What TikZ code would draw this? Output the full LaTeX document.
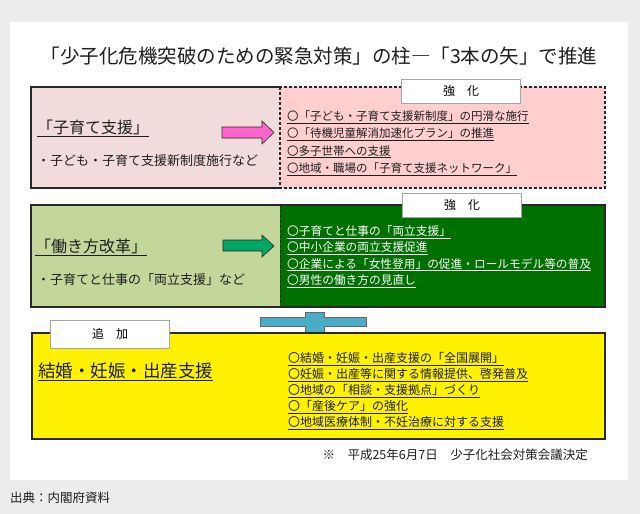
\documentclass[tikz,border=0pt]{standalone}
\usepackage{fontspec}
\setmainfont{Noto Sans CJK JP}
\usetikzlibrary{positioning}

\definecolor{bgGray}{RGB}{236,236,236}
\definecolor{pinkL}{RGB}{242,220,219}
\definecolor{pinkR}{RGB}{255,206,206}
\definecolor{arrowPink}{RGB}{255,102,204}
\definecolor{greenL}{RGB}{196,215,155}
\definecolor{greenR}{RGB}{0,112,0}
\definecolor{arrowGreen}{RGB}{0,166,100}
\definecolor{plusBlue}{RGB}{75,172,198}
\definecolor{edge}{RGB}{40,40,40}
\definecolor{ink}{RGB}{30,30,30}
\newcommand{\jfs}[2]{\fontsize{#1}{#2}\selectfont}

\begin{document}
\begin{tikzpicture}[x=1pt, y=-1pt,
  frame/.style={draw=edge, line width=1.6pt},
  tag/.style={draw=gray!70, fill=white, minimum width=119pt, minimum height=24pt, inner sep=0pt, font=\jfs{12}{14}},
  head/.style={anchor=west, inner sep=0pt, text=ink},
  items/.style={anchor=west, inner sep=0pt, align=left, text=ink}]
	\useasboundingbox (0,0) rectangle (640,514);
	\fill[bgGray] (0,0) rectangle (640,514);
	\fill[white] (10,22) rectangle (628,480);
	% title
	\node (title) at (319,56) [inner sep=0pt, text=ink, font=\jfs{19.5}{22}]
	{「少子化危機突破のための緊急対策」の柱―「3本の矢」で推進};

	% first arrow: kosodate
	\fill[pinkL] (31,87) rectangle (280,188);
	\fill[pinkR] (280,87) rectangle (605,188);
	\draw[frame] (280,87) -- (31,87) -- (31,188) -- (280,188);
	\draw[frame, dash pattern=on 3pt off 2pt, line width=1.3pt] (280,87) rectangle (605,188);
	\node (tagA) at (461,91) [tag] {強　化};
	\node (headA) at (37,128) [head, font=\jfs{16}{18}] {\underline{「子育て支援」}};
	\node (subA) at (37,161) [head, font=\jfs{13}{16}] {・子ども・子育て支援新制度施行など};
	\filldraw[fill=arrowPink, draw=edge, line width=0.6pt]
	  (222,127) -- (262,127) -- (262,121) -- (274,132.5) -- (262,144) -- (262,138) -- (222,138) -- cycle;
	\node (listA) at (287,143) [items, font=\jfs{11.5}{17.3}]
	{\underline{〇「子ども・子育て支援新制度」の円滑な施行}\\
	 \underline{〇「待機児童解消加速化プラン」の推進}\\
	 \underline{〇多子世帯への支援}\\
	 \underline{〇地域・職場の「子育て支援ネットワーク」}};

	% second arrow: hatarakikata
	\fill[greenL] (31,205) rectangle (280,307);
	\fill[greenR] (280,205) rectangle (605,307);
	\draw[frame] (31,205) rectangle (605,307);
	\draw[edge, dash pattern=on 3pt off 2pt, line width=0.8pt] (280,205) -- (280,307);
	\node (tagB) at (462,205) [tag] {強　化};
	\node (headB) at (35,247) [head, font=\jfs{16}{18}] {\underline{「働き方改革」}};
	\node (subB) at (37,280) [head, font=\jfs{13}{16}] {・子育てと仕事の「両立支援」など};
	\filldraw[fill=arrowGreen, draw=edge, line width=0.6pt]
	  (223,240) -- (262,240) -- (262,235) -- (274,246) -- (262,257) -- (262,251) -- (223,251) -- cycle;
	\node (listB) at (287,256.5) [items, text=white, font=\jfs{11.7}{16.3}]
	{\underline{〇子育てと仕事の「両立支援」}\\
	 \underline{〇中小企業の両立支援促進}\\
	 \underline{〇企業による「女性登用」の促進・ロールモデル等の普及}\\
	 \underline{〇男性の働き方の見直し}};

	% plus
	\filldraw[fill=plusBlue, draw=edge!70, line width=0.6pt]
	  (260,317) -- (305,317) -- (305,312) -- (324,312) -- (324,317) -- (366,317) -- (366,326)
	  -- (324,326) -- (324,332) -- (305,332) -- (305,326) -- (260,326) -- cycle;

	% third arrow: kekkon
	\filldraw[fill=yellow, frame] (32,333) rectangle (605,439);
	\node (tagC) at (110,334) [tag, minimum height=28pt] {追　加};
	\node (headC) at (38,372) [head, font=\jfs{17.5}{20}] {\underline{結婚・妊娠・出産支援}};
	\node (listC) at (288,391) [items, font=\jfs{12}{16}]
	{\underline{〇結婚・妊娠・出産支援の「全国展開」}\\
	 \underline{〇妊娠・出産等に関する情報提供、啓発普及}\\
	 \underline{〇地域の「相談・支援拠点」づくり}\\
	 \underline{〇「産後ケア」の強化}\\
	 \underline{〇地域医療体制・不妊治療に対する支援}};

	\node (note) at (588,455) [anchor=east, inner sep=0pt, text=ink, font=\jfs{12.5}{14}]
	{※　平成25年6月7日　少子化社会対策会議決定};
	\node (source) at (10,498) [anchor=west, inner sep=0pt, text=ink, font=\jfs{12.5}{14}]
	{出典：内閣府資料};
\end{tikzpicture}
\end{document}
